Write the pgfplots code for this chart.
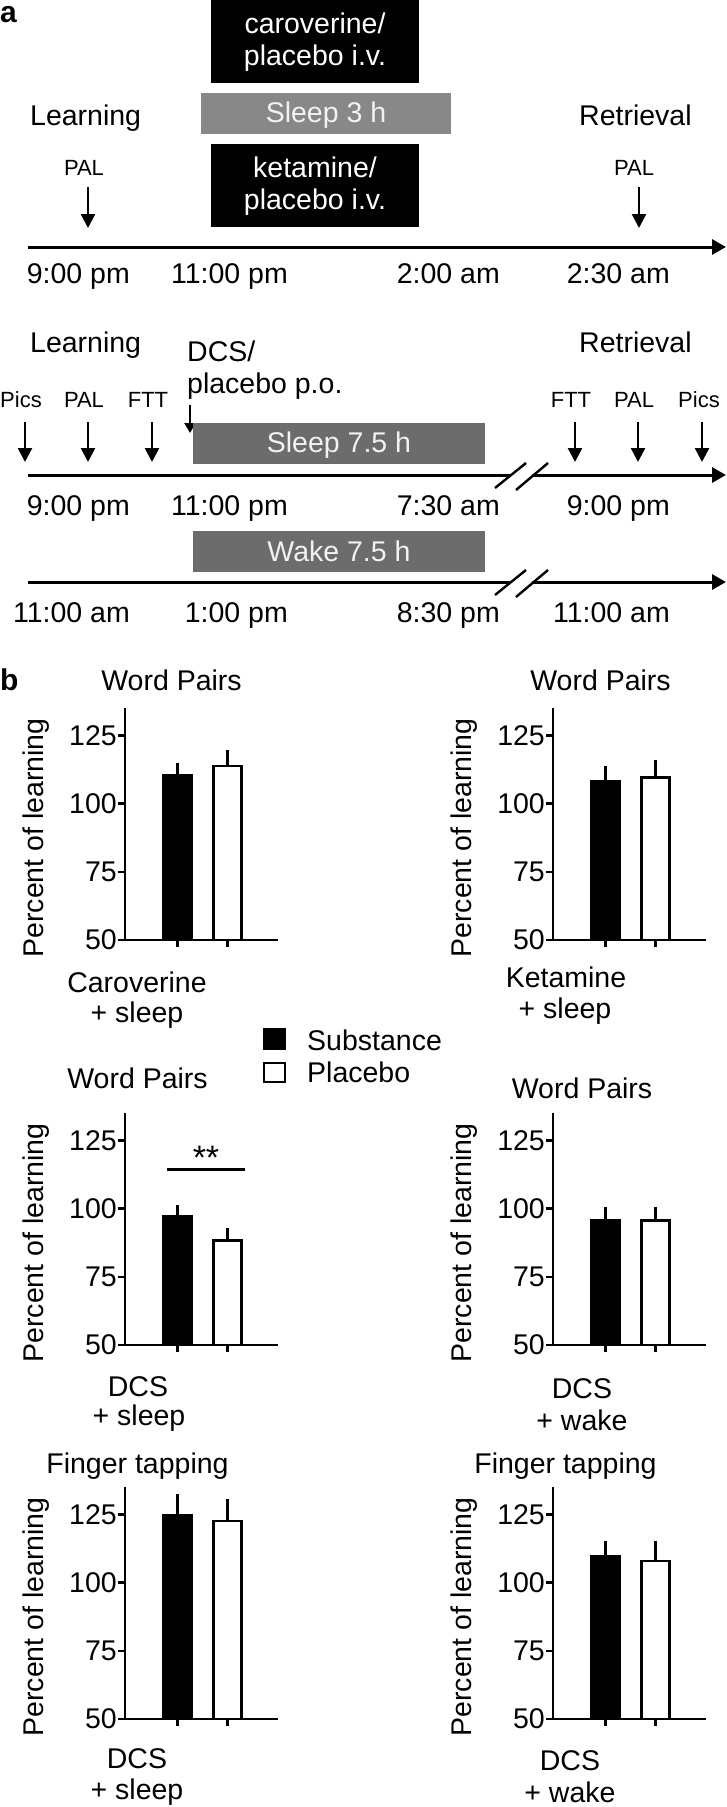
\documentclass[border=0pt]{standalone}
\usepackage{fontspec}
\setmainfont{Liberation Sans}
\usepackage{pgfplots}
\pgfplotsset{compat=1.18}
\usetikzlibrary{arrows.meta}

\newcommand{\F}{\fontsize{28.5}{31}\selectfont}
\newcommand{\Fs}{\fontsize{22}{24}\selectfont}
\definecolor{gA}{RGB}{136,136,136}
\definecolor{gB}{RGB}{108,108,108}
\definecolor{tw}{RGB}{242,242,242}

\pgfplotsset{
  barax/.style={
    scale only axis, width=153pt, height=232pt,
    xmin=-1.05, xmax=2.01, ymin=50, ymax=135,
    axis x line*=bottom, axis y line*=left,
    axis line style={line width=2.6pt, black},
    xtick={0,1}, xticklabels={}, ytick={50,75,100,125},
    tick align=outside, major tick length=7pt,
    every tick/.style={black, line width=2.4pt},
    tick label style={font=\F, inner sep=1pt},
    /pgf/number format/assume math mode=true,
    ylabel={Percent of learning},
    ylabel style={font=\F, at={(axis description cs:-0.58,0.44)}, anchor=center},
    ybar, bar width=0.57, bar shift=0pt,
  },
  subst/.style={fill=black, draw=black, line width=2.6pt,
    error bars/.cd, y dir=plus, y explicit, error mark=-,
    error bar style={line width=2.6pt, black},
    error mark options={mark size=6pt, line width=2.6pt, black}},
  plac/.style={fill=white, draw=black, line width=2.6pt,
    error bars/.cd, y dir=plus, y explicit, error mark=-,
    error bar style={line width=2.6pt, black},
    error mark options={mark size=6pt, line width=2.6pt, black}},
}

\begin{document}
\begin{tikzpicture}
\useasboundingbox (0,0) rectangle (727pt,-1807pt);
\begin{scope}[x=1pt,y=-1pt, every node/.style={inner sep=0pt, font=\F},
  darr/.style={line width=2.4pt, -{Triangle[length=14pt,width=14pt]}},
  sarr/.style={line width=2.2pt, -{Triangle[length=10pt,width=11pt]}},
  tl/.style={line width=3pt},
  tla/.style={line width=3pt, -{Triangle[length=14pt,width=15pt]}}]
% ---------- panel a, part 1
\node[anchor=base west, font=\bfseries\fontsize{30}{32}\selectfont] at (0,22) {a};
\fill[black] (211,0) rectangle (419,83);
\node[anchor=base, text=white] at (315,33) {caroverine/};
\node[anchor=base, text=white] at (315,65) {placebo i.v.};
\fill[gA] (201,93) rectangle (451,134);
\node[anchor=base, text=tw] at (326,122) {Sleep 3 h};
\fill[black] (211,144) rectangle (419,227);
\node[anchor=base, text=white] at (315,177) {ketamine/};
\node[anchor=base, text=white] at (315,209) {placebo i.v.};
\node[anchor=base west] at (30,125) {Learning};
\node[anchor=base west] at (579,125) {Retrieval};
\node[anchor=base, font=\Fs] at (84,175) {PAL};
\node[anchor=base, font=\Fs] at (634,175) {PAL};
\draw[darr] (88,187) -- (88,228);
\draw[darr] (639,187) -- (639,228);
\draw[tla] (28,247) -- (726,247);
\node[anchor=base east] at (130,283) {9:00 pm};
\node[anchor=base east] at (288,283) {11:00 pm};
\node[anchor=base east] at (500,283) {2:00 am};
\node[anchor=base east] at (670,283) {2:30 am};
% ---------- panel a, part 2
\node[anchor=base west] at (30,352) {Learning};
\node[anchor=base west] at (579,352) {Retrieval};
\node[anchor=base west] at (187,361) {DCS/};
\node[anchor=base west] at (187,393) {placebo p.o.};
\node[anchor=base, font=\Fs] at (21,407) {Pics};
\node[anchor=base, font=\Fs] at (84,407) {PAL};
\node[anchor=base, font=\Fs] at (148,407) {FTT};
\node[anchor=base, font=\Fs] at (571,407) {FTT};
\node[anchor=base, font=\Fs] at (634,407) {PAL};
\node[anchor=base, font=\Fs] at (699,407) {Pics};
\foreach \xx in {25,88,152,575,638,702} {\draw[darr] (\xx,422) -- (\xx,462);}
\draw[sarr] (190,405) -- (190,433);
\fill[gB] (193,423) rectangle (485,464);
\node[anchor=base, text=tw] at (339,452) {Sleep 7.5 h};
\draw[tl] (28,475) -- (510,475);
\draw[tla] (532,475) -- (726,475);
\draw[line width=2.4pt] (495,488) -- (526,463);
\draw[line width=2.4pt] (516,490) -- (548,463);
\node[anchor=base east] at (130,515) {9:00 pm};
\node[anchor=base east] at (288,515) {11:00 pm};
\node[anchor=base east] at (500,515) {7:30 am};
\node[anchor=base east] at (670,515) {9:00 pm};
\fill[gB] (193,531) rectangle (485,572);
\node[anchor=base, text=tw] at (339,561) {Wake 7.5 h};
\draw[tl] (28,582) -- (510,582);
\draw[tla] (532,582) -- (726,582);
\draw[line width=2.4pt] (495,595) -- (526,570);
\draw[line width=2.4pt] (516,597) -- (548,570);
\node[anchor=base east] at (130,622) {11:00 am};
\node[anchor=base east] at (288,622) {1:00 pm};
\node[anchor=base east] at (500,622) {8:30 pm};
\node[anchor=base east] at (670,622) {11:00 am};
% ---------- panel b texts
\node[anchor=base west, font=\bfseries\fontsize{30}{32}\selectfont] at (0,690) {b};
\node[anchor=base] at (171.5,690) {Word Pairs};
\node[anchor=base] at (600.5,690) {Word Pairs};
\node[anchor=base] at (137.5,1088) {Word Pairs};
\node[anchor=base] at (582,1098) {Word Pairs};
\node[anchor=base] at (137.5,1473) {Finger tapping};
\node[anchor=base] at (565.5,1473) {Finger tapping};
\node[anchor=base] at (137,992) {Caroverine};
\node[anchor=base] at (137,1022) {+ sleep};
\node[anchor=base] at (566,987) {Ketamine};
\node[anchor=base] at (565,1018) {+ sleep};
\node[anchor=base] at (138,1396) {DCS};
\node[anchor=base] at (139,1425) {+ sleep};
\node[anchor=base] at (582,1398) {DCS};
\node[anchor=base] at (582,1430) {+ wake};
\node[anchor=base] at (137,1768) {DCS};
\node[anchor=base] at (137,1799) {+ sleep};
\node[anchor=base] at (570,1770) {DCS};
\node[anchor=base] at (570,1802) {+ wake};
% legend
\fill[black] (263,1028) rectangle (286,1050);
\draw[line width=2.4pt] (264.2,1063.2) rectangle (284.8,1081.8);
\node[anchor=base west] at (307,1050) {Substance};
\node[anchor=base west] at (307,1082) {Placebo};
\end{scope}

% ---------- bar charts
\begin{axis}[barax, at={(125pt,-940pt)}, anchor=south west]
\addplot[subst] coordinates {(0,110.4) +- (0,2.2)};
\addplot[plac] coordinates {(1,113.7) +- (0,3.7)};
\end{axis}
\begin{axis}[barax, at={(553pt,-940pt)}, anchor=south west]
\addplot[subst] coordinates {(0,108.1) +- (0,3.4)};
\addplot[plac] coordinates {(1,109.6) +- (0,4.1)};
\end{axis}
\begin{axis}[barax, at={(125pt,-1345pt)}, anchor=south west]
\addplot[subst] coordinates {(0,97.0) +- (0,2.0)};
\addplot[plac] coordinates {(1,88.2) +- (0,2.6)};
\draw[line width=2.6pt] (axis cs:-0.21,114.4) -- (axis cs:1.35,114.4);
\node[anchor=base, inner sep=0pt, font=\fontsize{34}{36}\selectfont] at (axis cs:0.57,114.4) {**};
\end{axis}
\begin{axis}[barax, at={(553pt,-1345pt)}, anchor=south west]
\addplot[subst] coordinates {(0,95.6) +- (0,2.9)};
\addplot[plac] coordinates {(1,95.6) +- (0,2.9)};
\end{axis}
\begin{axis}[barax, at={(125pt,-1719pt)}, anchor=south west]
\addplot[subst] coordinates {(0,124.8) +- (0,5.5)};
\addplot[plac] coordinates {(1,122.6) +- (0,5.9)};
\end{axis}
\begin{axis}[barax, at={(553pt,-1719pt)}, anchor=south west]
\addplot[subst] coordinates {(0,109.6) +- (0,3.3)};
\addplot[plac] coordinates {(1,107.9) +- (0,5.3)};
\end{axis}
\end{tikzpicture}
\end{document}
